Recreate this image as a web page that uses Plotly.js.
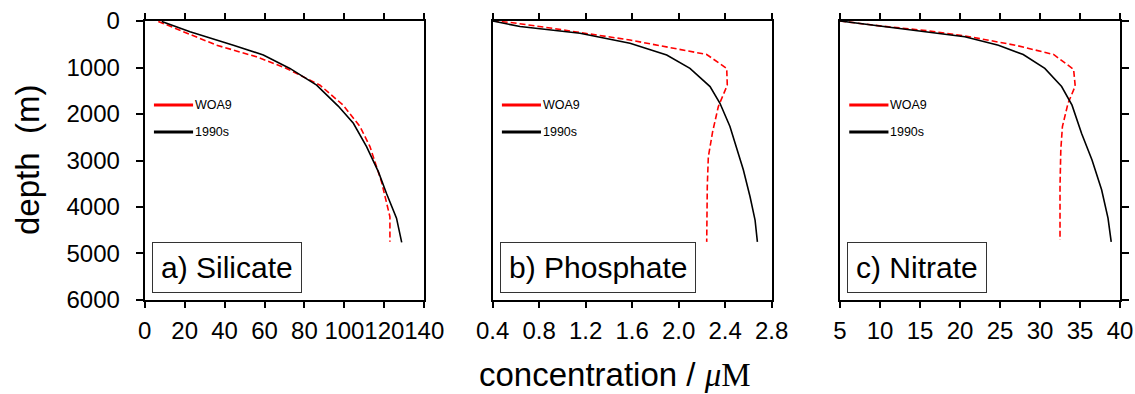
<!DOCTYPE html>
<html>
<head>
<meta charset="utf-8">
<script src="https://cdn.plot.ly/plotly-3.0.1.min.js"></script>
<style>html,body{margin:0;padding:0;background:#fff;}#chart{width:1135px;height:394px;}</style>
</head>
<body>
<div id="chart"></div>
<script>
// ---- data ----
const seriesNames = ["WOA9", "1990s"];
const panelLabels = ["a) Silicate", "b) Phosphate", "c) Nitrate"];

// Silicate
const silWOA_x   = [6.8, 19.4, 36, 56, 71, 87.8, 99.4, 107.8, 112.8, 118.6, 122.8, 122.8];
const silWOA_d   = [10, 230, 520, 770, 1020, 1380, 1810, 2270, 2700, 3460, 4210, 4750];
const sil1990_x  = [8.5, 22.7, 44.4, 59.4, 72.7, 86.1, 96.9, 104.5, 111.1, 117, 121.1, 126.1, 128.7];
const sil1990_d  = [10, 230, 520, 730, 1020, 1380, 1830, 2200, 2700, 3240, 3710, 4240, 4760];

// Phosphate
const phoWOA_x   = [0.4, 0.549, 0.922, 1.581, 2.241, 2.413, 2.418, 2.341, 2.292, 2.255, 2.246, 2.241];
const phoWOA_d   = [0, 30, 160, 410, 720, 1020, 1380, 1840, 2380, 2920, 3560, 4750];
const pho1990_x  = [0.4, 0.635, 1.151, 1.581, 1.897, 2.097, 2.27, 2.355, 2.441, 2.556, 2.614, 2.657, 2.677];
const pho1990_d  = [0, 120, 265, 480, 730, 1020, 1410, 1770, 2270, 3200, 3780, 4280, 4750];

// Nitrate
const nitWOA_x   = [5, 10.2, 16, 20.6, 26.9, 31.7, 34.2, 34.4, 33.5, 32.8, 32.6, 32.5, 32.5];
const nitWOA_d   = [0, 110, 210, 320, 520, 720, 1040, 1400, 1770, 2270, 2770, 3560, 4710];
const nit1990_x  = [5, 10.2, 16, 20.6, 24.8, 27.9, 30.6, 32.7, 34, 35.2, 36.5, 37.7, 38.5, 38.9];
const nit1990_d  = [0, 110, 230, 340, 520, 720, 1020, 1410, 1810, 2420, 2990, 3630, 4240, 4750];

// axes ranges / ticks
const xRanges = [[0, 140], [0.4, 2.8], [5, 40]];
const xDticks = [20, 0.4, 5];
const xFormats = ["", ".1f", ""];
const depthRange = [6000, 0];

// ---- styling ----
const FONT = "Liberation Sans, Arial, Helvetica, sans-serif";
const RED = "#ff0000", BLACK = "#000000";
const xDomains = [[0.1275, 0.3738], [0.4341, 0.6799], [0.7401, 0.9868]];
const yDomain = [0.2386, 0.9467];

function lineTrace(x, y, color, dash, ax) {
  return {
    x: x, y: y, type: "scatter", mode: "lines",
    line: {color: color, width: 1.6, dash: dash},
    xaxis: "x" + (ax === 1 ? "" : ax), yaxis: "y" + (ax === 1 ? "" : ax),
    hoverinfo: "skip", showlegend: false
  };
}

const data = [
  lineTrace(silWOA_x, silWOA_d, RED, "6px,3px", 1),
  lineTrace(sil1990_x, sil1990_d, BLACK, "solid", 1),
  lineTrace(phoWOA_x, phoWOA_d, RED, "6px,3px", 2),
  lineTrace(pho1990_x, pho1990_d, BLACK, "solid", 2),
  lineTrace(nitWOA_x, nitWOA_d, RED, "6px,3px", 3),
  lineTrace(nit1990_x, nit1990_d, BLACK, "solid", 3)
];

const layout = {
  width: 1135, height: 394,
  margin: {l: 0, r: 0, t: 0, b: 0},
  paper_bgcolor: "#fff", plot_bgcolor: "#fff",
  showlegend: false,
  font: {family: FONT, color: "#000"},
  shapes: [], annotations: []
};

const TICKSIZE = 24;
for (let i = 0; i < 3; i++) {
  const s = i === 0 ? "" : String(i + 1);
  layout["xaxis" + s] = {
    domain: xDomains[i], anchor: "y" + s, range: xRanges[i], dtick: xDticks[i], tick0: xRanges[i][0],
    tickformat: xFormats[i], showgrid: false, zeroline: false, tickangle: 0,
    showline: true, linewidth: 2, linecolor: "#000", mirror: "ticks",
    ticks: "outside", ticklen: 6, tickwidth: 2, tickcolor: "#000",
    tickfont: {size: TICKSIZE, family: FONT, color: "#000"}, ticklabelstandoff: 2,
    fixedrange: true
  };
  const y = {
    domain: yDomain, anchor: "x" + s, range: depthRange, dtick: 1000, tick0: 0,
    showgrid: false, zeroline: false, tickangle: 0,
    showline: true, linewidth: 2, linecolor: "#000", mirror: true,
    tickfont: {size: TICKSIZE, family: FONT, color: "#000"},
    fixedrange: true
  };
  if (i === 0) {
    y.ticks = "outside"; y.ticklen = 7; y.tickwidth = 2; y.tickcolor = "#000";
    y.side = "left"; y.ticklabelstandoff = 11;
  } else if (i === 1) {
    y.ticks = ""; y.showticklabels = false;
  } else {
    y.ticks = "outside"; y.ticklen = 7; y.tickwidth = 2; y.tickcolor = "#000";
    y.side = "right"; y.showticklabels = false;
  }
  layout["yaxis" + s] = y;

  // legend lines
  const xr = "x" + s + " domain", yr = "y" + s + " domain";
  layout.shapes.push({type: "line", xref: xr, yref: yr, x0: 0.033, x1: 0.173, y0: 0.699, y1: 0.699,
    line: {color: RED, width: 3}});
  layout.shapes.push({type: "line", xref: xr, yref: yr, x0: 0.033, x1: 0.173, y0: 0.602, y1: 0.602,
    line: {color: BLACK, width: 3}});
  layout.annotations.push({xref: xr, yref: yr, x: 0.173, y: 0.699, xanchor: "left", yanchor: "middle",
    text: seriesNames[0], showarrow: false, font: {size: 12.5, family: FONT, color: "#000"}});
  layout.annotations.push({xref: xr, yref: yr, x: 0.173, y: 0.602, xanchor: "left", yanchor: "middle",
    text: seriesNames[1], showarrow: false, font: {size: 12.5, family: FONT, color: "#000"}});
  // panel label box
  layout.annotations.push({xref: xr, yref: yr, x: 0.025, y: 0.025, xanchor: "left", yanchor: "bottom",
    text: panelLabels[i], showarrow: false, font: {size: 30, family: FONT, color: "#000"},
    bordercolor: "#333", borderwidth: 1, borderpad: 8, bgcolor: "#fff"});
}

// axis titles
layout.annotations.push({xref: "paper", yref: "paper", x: 27 / 1135, y: 1 - 160 / 394,
  xanchor: "center", yanchor: "middle", textangle: -90, showarrow: false,
  text: "depth  (m)", font: {size: 33, family: FONT, color: "#000"}});
layout.annotations.push({xref: "paper", yref: "paper", x: 615 / 1135, y: 1 - 374 / 394,
  xanchor: "center", yanchor: "middle", showarrow: false,
  text: "concentration / <span style=\"font-family:'Liberation Serif',serif\"><i>μ</i>M</span>",
  font: {size: 33, family: FONT, color: "#000"}});

Plotly.newPlot("chart", data, layout, {displayModeBar: false, staticPlot: true});
</script>
</body>
</html>
